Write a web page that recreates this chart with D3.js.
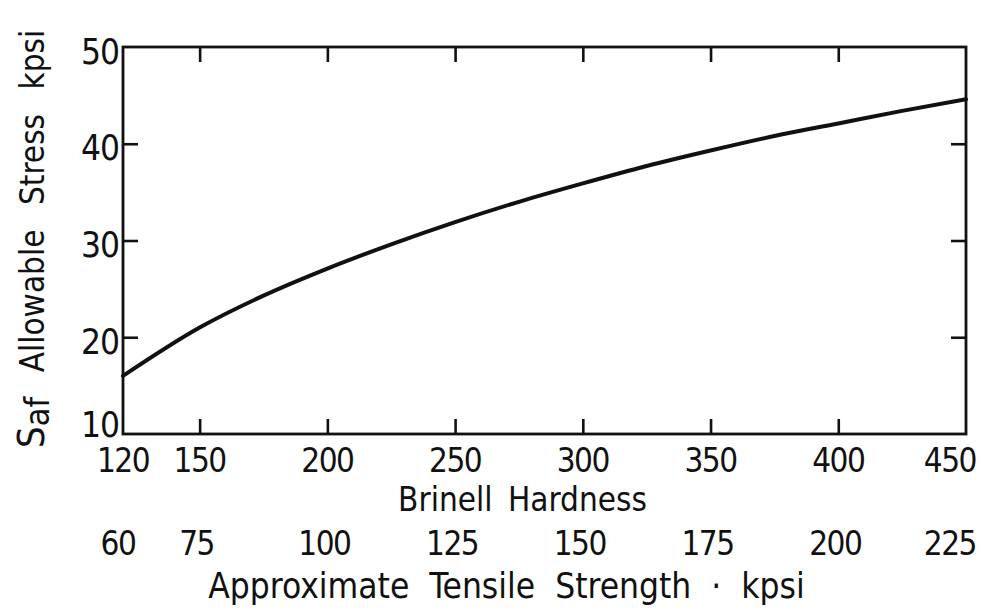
<!DOCTYPE html>
<html>
<head>
<meta charset="utf-8">
<script src="https://cdn.jsdelivr.net/npm/d3@7"></script>
<style>
  html, body { margin: 0; padding: 0; background: #fff; }
  svg { display: block; }
  text { font-family: "DejaVu Sans Condensed", "DejaVu Sans", sans-serif; font-stretch: condensed; fill: #111; }
</style>
</head>
<body>
<svg id="chart" width="1002" height="611"></svg>
<script>
// Allowable bending stress vs. Brinell hardness
const brinell         = [120, 150, 175, 200, 225, 250, 275, 300, 325, 350, 375, 400, 425, 450];
const allowableStress = [16.0, 21.0, 24.3, 27.1, 29.6, 31.9, 34.0, 35.9, 37.7, 39.3, 40.8, 42.1, 43.4, 44.6];

// Axis tick labels
const brinellTicks = [120, 150, 200, 250, 300, 350, 400, 450];
const tensileTicks = [60, 75, 100, 125, 150, 175, 200, 225];
const stressTicks  = [10, 20, 30, 40, 50];

const W = 1002, H = 611;
const margin = { top: 47, right: 36, bottom: 177, left: 123 };
const innerW = W - margin.left - margin.right;
const innerH = H - margin.top - margin.bottom;
const TICK = 15;

const svg = d3.select("#chart");
const g = svg.append("g").attr("transform", `translate(${margin.left},${margin.top})`);

const x = d3.scaleLinear()
  .domain([d3.min(brinellTicks), d3.max(brinellTicks)])
  .range([0, innerW]);
// tensile strength is roughly half the Brinell number
const xT = d3.scaleLinear()
  .domain([d3.min(tensileTicks), d3.max(tensileTicks)])
  .range([0, innerW]);
const y = d3.scaleLinear()
  .domain([d3.min(stressTicks), d3.max(stressTicks)])
  .range([innerH, 0]);

const ink = "#111";

// inward tick marks on all four sides
const inner = brinellTicks.slice(1, -1);
const innerY = stressTicks.slice(1, -1);
function strip(sel) {
  sel.select(".domain").remove();
  sel.selectAll("text").remove();
  sel.selectAll("line").attr("stroke", ink).attr("stroke-width", 2.6);
}
g.append("g").attr("transform", `translate(0,${innerH})`)
  .call(d3.axisBottom(x).tickValues(inner).tickSize(-TICK)).call(strip);
g.append("g")
  .call(d3.axisTop(x).tickValues(inner).tickSize(-TICK)).call(strip);
g.append("g")
  .call(d3.axisLeft(y).tickValues(innerY).tickSize(-TICK)).call(strip);
g.append("g").attr("transform", `translate(${innerW},0)`)
  .call(d3.axisRight(y).tickValues(innerY).tickSize(-TICK)).call(strip);

// frame
g.append("rect")
  .attr("x", 0).attr("y", 0).attr("width", innerW).attr("height", innerH)
  .attr("fill", "none").attr("stroke", ink).attr("stroke-width", 2.8);

// y tick labels
g.append("g").selectAll("text").data(stressTicks).join("text")
  .attr("x", -4)
  .attr("y", d => y(d) + (d === stressTicks[0] ? -10 : 4))
  .attr("dy", "0.36em")
  .attr("text-anchor", "end")
  .attr("font-size", 35)
  .attr("letter-spacing", -1)
  .text(d => d);

// Brinell labels
g.append("g").selectAll("text").data(brinellTicks).join("text")
  .attr("x", (d, i) => i === brinellTicks.length - 1 ? x(d) + 10 : x(d))
  .attr("y", innerH + 38)
  .attr("text-anchor", (d, i) => i === brinellTicks.length - 1 ? "end" : "middle")
  .attr("font-size", 33)
  .attr("letter-spacing", -1.5)
  .text(d => d);

// tensile strength labels
g.append("g").selectAll("text").data(tensileTicks).join("text")
  .attr("x", (d, i) => i === tensileTicks.length - 1 ? xT(d) + 10 : (i === 0 ? xT(d) - 5 : xT(d) - 3))
  .attr("y", innerH + 121)
  .attr("text-anchor", (d, i) => i === tensileTicks.length - 1 ? "end" : "middle")
  .attr("font-size", 33)
  .attr("letter-spacing", -1.5)
  .text(d => d);

// axis titles
g.append("text")
  .attr("x", innerW / 2 - 22).attr("y", innerH + 77)
  .attr("text-anchor", "middle").attr("font-size", 33)
  .attr("word-spacing", 6)
  .text("Brinell Hardness");
g.append("text")
  .attr("x", innerW / 2 - 38).attr("y", innerH + 164)
  .attr("text-anchor", "middle").attr("font-size", 35)
  .attr("word-spacing", 10)
  .text("Approximate Tensile Strength \u00b7 kpsi");

const yTitle = svg.append("text")
  .attr("transform", `translate(44,448) rotate(-90)`)
  .attr("text-anchor", "start").attr("font-size", 33)
  .attr("word-spacing", 15);
yTitle.append("tspan").attr("font-size", 38).text("S");
yTitle.append("tspan").attr("font-size", 34).attr("dy", 5).text("af");
yTitle.append("tspan").attr("dy", -5).text(" Allowable Stress kpsi");

// curve
const line = d3.line()
  .x((d, i) => x(brinell[i]))
  .y(d => y(d))
  .curve(d3.curveMonotoneX);
g.append("path")
  .datum(allowableStress)
  .attr("d", line)
  .attr("fill", "none")
  .attr("stroke", ink)
  .attr("stroke-width", 4)
  .attr("stroke-linecap", "round");
</script>
</body>
</html>
